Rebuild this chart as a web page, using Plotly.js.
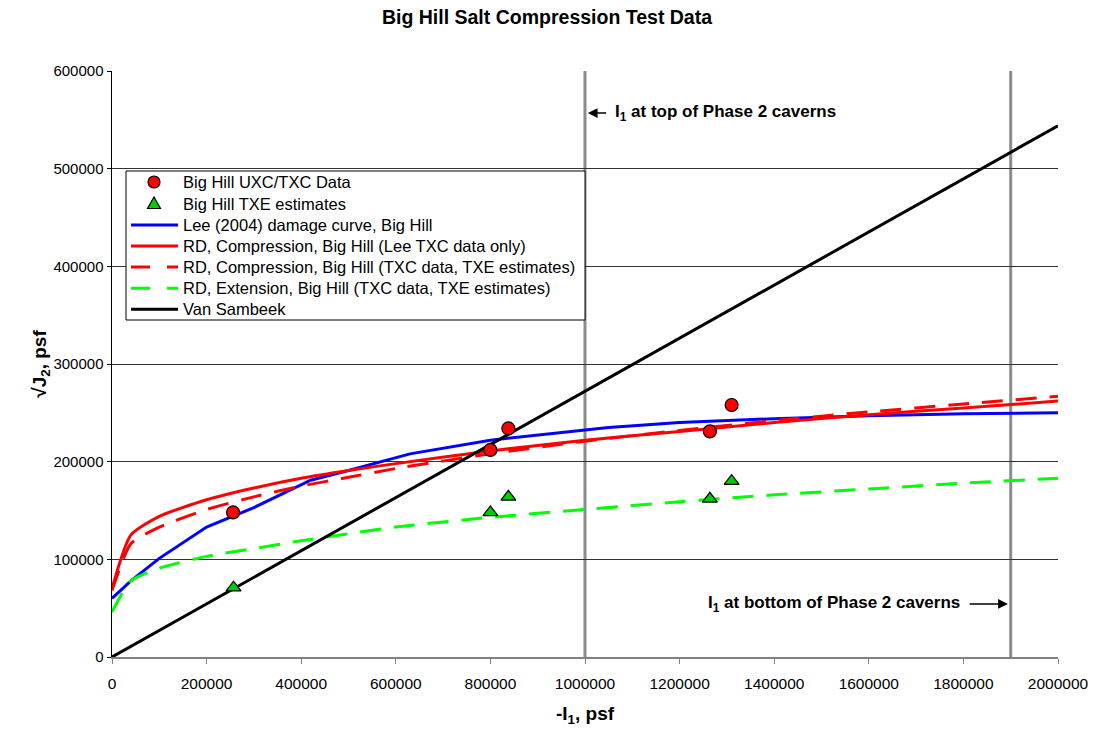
<!DOCTYPE html>
<html>
<head>
<meta charset="utf-8">
<script src="https://cdn.plot.ly/plotly-3.0.1.min.js"></script>
<style>
  html, body { margin: 0; padding: 0; background: #fff; }
  #chart { width: 1094px; height: 730px; }
</style>
</head>
<body>
<div id="chart"></div>
<script>
// Big Hill UXC/TXC laboratory data points (-I1, sqrt(J2)), psf
const uxcTxcI1 = [256000, 800000, 838000, 1264000, 1310000];
const uxcTxcJ2 = [148000, 212000, 234000, 231000, 258000];

// Big Hill TXE estimates
const txeI1 = [257000, 800000, 838000, 1264000, 1310000];
const txeJ2 = [71000, 148000, 164000, 162000, 180000];

// Lee (2004) damage curve, Big Hill
const leeI1 = [0, 40000, 100000, 200000, 300000, 420000, 500000, 630000, 800000, 1000000, 1050000, 1200000, 1400000, 1600000, 1800000, 2000000];
const leeJ2 = [60000, 78000, 101000, 133000, 153000, 181000, 191000, 208000, 222000, 232000, 235000, 240000, 244000, 247000, 249000, 250000];

// RD compression, Lee TXC data only
const rdCompLeeI1 = [0, 40000, 100000, 200000, 300000, 400000, 500000, 600000, 800000, 1000000, 1200000, 1400000, 1600000, 1800000, 2000000];
const rdCompLeeJ2 = [70000, 125000, 144000, 161000, 173000, 183000, 191000, 198000, 211000, 222000, 231000, 240000, 248000, 255000, 262000];

// RD compression, TXC data with TXE estimates
const rdCompTxeI1 = [0, 40000, 100000, 200000, 300000, 400000, 500000, 600000, 800000, 1000000, 1200000, 1400000, 1600000, 1800000, 2000000];
const rdCompTxeJ2 = [68000, 116000, 133000, 151000, 164000, 175000, 184000, 193000, 208000, 221000, 232000, 242000, 251000, 259000, 267000];

// RD extension, TXC data with TXE estimates
const rdExtI1 = [0, 40000, 100000, 200000, 300000, 400000, 600000, 800000, 1000000, 1200000, 1400000, 1600000, 1800000, 2000000];
const rdExtJ2 = [46000, 78000, 91000, 103000, 111000, 119000, 133000, 143000, 151000, 159000, 166000, 172000, 178000, 183000];

// Van Sambeek dilatancy criterion (straight line through the origin)
const vanSambeekI1 = [0, 2000000];
const vanSambeekJ2 = [0, 544000];

// -I1 at the top and bottom of the Phase 2 caverns
const phase2TopI1 = 1000000;
const phase2BottomI1 = 1900000;

const FONT = 'Liberation Sans, Arial, sans-serif';

const W = 1094, H = 730;
const M = { l: 112, r: 36, t: 71, b: 73 };
const plotW = W - M.l - M.r, plotH = H - M.t - M.b;
// page pixel -> paper fraction (used for the boxed key)
const px = v => (v - M.l) / plotW;
const py = v => (H - M.b - v) / plotH;

const RED = '#ff0000', GREEN = '#00ff00', BLUE = '#0000ff', BLACK = '#000000';
const DASH = '21px,13px';

const series = [
  { name: 'Big Hill UXC/TXC Data', kind: 'circle' },
  { name: 'Big Hill TXE estimates', kind: 'triangle' },
  { name: 'Lee (2004) damage curve, Big Hill', kind: 'line', color: BLUE },
  { name: 'RD, Compression, Big Hill (Lee TXC data only)', kind: 'line', color: RED },
  { name: 'RD, Compression, Big Hill (TXC data, TXE estimates)', kind: 'dash', color: RED },
  { name: 'RD, Extension, Big Hill (TXC data, TXE estimates)', kind: 'dash', color: GREEN },
  { name: 'Van Sambeek', kind: 'line', color: BLACK }
];

const data = [
  { x: leeI1, y: leeJ2, mode: 'lines', type: 'scatter', name: series[2].name,
    line: { color: BLUE, width: 3 } },
  { x: rdCompLeeI1, y: rdCompLeeJ2, mode: 'lines', type: 'scatter', name: series[3].name,
    line: { color: RED, width: 3, shape: 'spline', smoothing: 0.6 } },
  { x: rdCompTxeI1, y: rdCompTxeJ2, mode: 'lines', type: 'scatter', name: series[4].name,
    line: { color: RED, width: 3, dash: DASH, shape: 'spline', smoothing: 0.6 } },
  { x: rdExtI1, y: rdExtJ2, mode: 'lines', type: 'scatter', name: series[5].name,
    line: { color: GREEN, width: 3, dash: DASH, shape: 'spline', smoothing: 0.6 } },
  { x: vanSambeekI1, y: vanSambeekJ2, mode: 'lines', type: 'scatter', name: series[6].name,
    line: { color: BLACK, width: 3 } },
  { x: uxcTxcI1, y: uxcTxcJ2, mode: 'markers', type: 'scatter', name: series[0].name,
    marker: { symbol: 'circle', size: 13, color: RED, line: { color: '#000', width: 1.2 } } },
  { x: txeI1, y: txeJ2, mode: 'markers', type: 'scatter', name: series[1].name,
    marker: { symbol: 'triangle-up', size: 13, color: '#00cc00', line: { color: '#000', width: 1.2 } } }
];

// boxed key in the upper-left part of the plot
const keyShapes = [
  { type: 'rect', xref: 'paper', yref: 'paper', x0: px(126), x1: px(585), y0: py(320), y1: py(171),
    fillcolor: '#fff', line: { color: '#000', width: 1 }, layer: 'above' }
];
const keyAnnotations = [];
const rowY = [182, 203.5, 225, 246, 267, 288.3, 309.3];
series.forEach((s, i) => {
  const y = py(rowY[i]);
  if (s.kind === 'line' || s.kind === 'dash') {
    keyShapes.push({ type: 'line', xref: 'paper', yref: 'paper', x0: px(131), x1: px(178), y0: y, y1: y,
      line: { color: s.color, width: 3, dash: s.kind === 'dash' ? '19px,17px' : 'solid' }, layer: 'above' });
  } else if (s.kind === 'circle') {
    keyShapes.push({ type: 'circle', xref: 'paper', yref: 'paper', xsizemode: 'pixel', ysizemode: 'pixel',
      xanchor: px(154), yanchor: y, x0: -6, x1: 6, y0: -6, y1: 6,
      fillcolor: RED, line: { color: '#000', width: 1.2 }, layer: 'above' });
  } else {
    keyShapes.push({ type: 'path', xref: 'paper', yref: 'paper', xsizemode: 'pixel', ysizemode: 'pixel',
      xanchor: px(154), yanchor: y, path: 'M-6.5,-5 L6.5,-5 L0,6.5 Z',
      fillcolor: '#00cc00', line: { color: '#000', width: 1.2 }, layer: 'above' });
  }
  keyAnnotations.push({ x: px(181), y: y, xref: 'paper', yref: 'paper', xanchor: 'left', yanchor: 'middle',
    text: s.name, showarrow: false, font: { family: FONT, size: 16.5, color: '#000' } });
});

const layout = {
  width: W,
  height: H,
  paper_bgcolor: '#fff',
  plot_bgcolor: '#fff',
  font: { family: FONT, size: 15, color: '#000' },
  margin: M,
  showlegend: false,
  title: {
    text: '<b>Big Hill Salt Compression Test Data</b>',
    font: { family: FONT, size: 19.5, color: '#000' },
    x: 0.5, xref: 'container', xanchor: 'center',
    y: 0.976, yref: 'container', yanchor: 'middle'
  },
  xaxis: {
    range: [0, 2000000],
    dtick: 200000, tick0: 0,
    tickformat: 'd',
    showgrid: false,
    zeroline: false,
    showline: true, linecolor: '#808080', linewidth: 1.5,
    ticks: 'outside', ticklen: 5, tickcolor: '#808080', tickwidth: 1,
    ticklabelstandoff: 7,
    tickfont: { family: FONT, size: 15.5, color: '#000' },
    title: { text: '<b>-I<sub>1</sub>, psf</b>', font: { family: FONT, size: 19, color: '#000' }, standoff: 15 },
    fixedrange: true
  },
  yaxis: {
    range: [0, 600000],
    dtick: 100000, tick0: 0,
    tickformat: 'd',
    showgrid: true, gridcolor: '#333', gridwidth: 1,
    zeroline: false,
    showline: true, linecolor: '#000', linewidth: 1.5,
    ticks: 'outside', ticklen: 4, tickcolor: '#000', tickwidth: 1,
    tickfont: { family: FONT, size: 15, color: '#000' },
    title: { text: '<b>√J<sub>2</sub>, psf</b>', font: { family: FONT, size: 19, color: '#000' }, standoff: 2 },
    fixedrange: true
  },
  shapes: [
    { type: 'line', xref: 'x', yref: 'paper', x0: phase2TopI1, x1: phase2TopI1, y0: 0, y1: 1,
      line: { color: '#8c8c8c', width: 3 }, layer: 'between' },
    { type: 'line', xref: 'x', yref: 'paper', x0: phase2BottomI1, x1: phase2BottomI1, y0: 0, y1: 1,
      line: { color: '#8c8c8c', width: 3 }, layer: 'between' }
  ].concat(keyShapes),
  annotations: [
    // arrow pointing at the top-of-caverns line
    { x: phase2TopI1 + 6000, y: 557000, xref: 'x', yref: 'y',
      ax: phase2TopI1 + 48000, ay: 557000, axref: 'x', ayref: 'y',
      text: '', showarrow: true, arrowhead: 2, arrowsize: 1.3, arrowwidth: 1.5, arrowcolor: '#000' },
    { x: phase2TopI1 + 60000, y: 557000, xref: 'x', yref: 'y', xanchor: 'left', yanchor: 'middle',
      text: '<b>I<sub>1</sub> at top of Phase 2 caverns</b>', showarrow: false,
      font: { family: FONT, size: 17, color: '#000' } },
    // arrow pointing at the bottom-of-caverns line
    { x: phase2BottomI1 - 6000, y: 54300, xref: 'x', yref: 'y',
      ax: phase2BottomI1 - 90000, ay: 54300, axref: 'x', ayref: 'y',
      text: '', showarrow: true, arrowhead: 2, arrowsize: 1.3, arrowwidth: 1.5, arrowcolor: '#000' },
    { x: phase2BottomI1 - 104000, y: 54300, xref: 'x', yref: 'y', xanchor: 'right', yanchor: 'middle',
      text: '<b>I<sub>1</sub> at bottom of Phase 2 caverns</b>', showarrow: false,
      font: { family: FONT, size: 17, color: '#000' } }
  ].concat(keyAnnotations)
};

Plotly.newPlot('chart', data, layout, { staticPlot: true, displayModeBar: false });
</script>
</body>
</html>
